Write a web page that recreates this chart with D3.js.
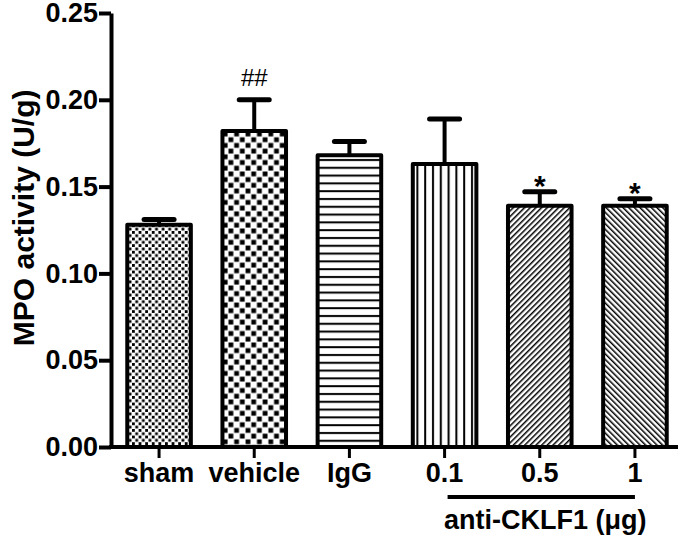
<!DOCTYPE html>
<html>
<head>
<meta charset="utf-8">
<script src="https://cdn.jsdelivr.net/npm/d3@7"></script>
<style>
    body { margin: 0; background: #fff; }
    text { font-family: 'Liberation Sans', Arial, sans-serif; }
</style>
</head>
<body>
<div id="chart"></div>
<script>
// data
const groups = ['sham', 'vehicle', 'IgG', '0.1', '0.5', '1'];
const means = [0.128, 0.182, 0.168, 0.163, 0.139, 0.139];
const errors = [0.003, 0.018, 0.008, 0.026, 0.008, 0.004];
const marks = ['', '##', '', '', '*', '*'];
const patterns = ['fineCheck', 'bigCheck', 'hLines', 'vLines', 'diagUp', 'diagDown'];
const yTicks = [0, 0.05, 0.10, 0.15, 0.20, 0.25];
const bracketGroups = ['0.1', '0.5', '1'];

const W = 685, H = 541;
const margin = { top: 13, left: 111 };
const plotBottom = 447;
const labelSize = 27;

const svg = d3.select('#chart').append('svg')
    .attr('width', W)
    .attr('height', H);

// fill patterns
const defs = svg.append('defs');

let p = defs.append('pattern').attr('id', 'fineCheck')
    .attr('patternUnits', 'userSpaceOnUse').attr('width', 6.6).attr('height', 6.6);
p.append('rect').attr('width', 6.6).attr('height', 6.6).attr('fill', '#fff');
p.append('rect').attr('x', 0).attr('y', 0).attr('width', 2.8).attr('height', 2.8).attr('fill', '#000');
p.append('rect').attr('x', 3.3).attr('y', 3.3).attr('width', 2.8).attr('height', 2.8).attr('fill', '#000');

p = defs.append('pattern').attr('id', 'bigCheck')
    .attr('patternUnits', 'userSpaceOnUse').attr('width', 11.4).attr('height', 11.4);
p.append('rect').attr('width', 11.4).attr('height', 11.4).attr('fill', '#fff');
p.append('rect').attr('x', 0.5).attr('y', 0.5).attr('width', 4.8).attr('height', 4.8).attr('fill', '#000');
p.append('rect').attr('x', 6.2).attr('y', 6.2).attr('width', 4.8).attr('height', 4.8).attr('fill', '#000');

p = defs.append('pattern').attr('id', 'hLines')
    .attr('patternUnits', 'userSpaceOnUse').attr('width', 8).attr('height', 7.8);
p.append('rect').attr('width', 8).attr('height', 7.8).attr('fill', '#fff');
p.append('rect').attr('x', 0).attr('y', 3).attr('width', 8).attr('height', 2).attr('fill', '#000');

p = defs.append('pattern').attr('id', 'vLines')
    .attr('patternUnits', 'userSpaceOnUse').attr('width', 7.8).attr('height', 8);
p.append('rect').attr('width', 7.8).attr('height', 8).attr('fill', '#fff');
p.append('rect').attr('x', 3).attr('y', 0).attr('width', 2).attr('height', 8).attr('fill', '#000');

p = defs.append('pattern').attr('id', 'diagUp')
    .attr('patternUnits', 'userSpaceOnUse').attr('width', 4).attr('height', 4)
    .attr('patternTransform', 'rotate(45)');
p.append('rect').attr('width', 4).attr('height', 4).attr('fill', '#fff');
p.append('rect').attr('x', 1).attr('y', 0).attr('width', 1.5).attr('height', 4).attr('fill', '#000');

p = defs.append('pattern').attr('id', 'diagDown')
    .attr('patternUnits', 'userSpaceOnUse').attr('width', 4).attr('height', 4)
    .attr('patternTransform', 'rotate(-45)');
p.append('rect').attr('width', 4).attr('height', 4).attr('fill', '#fff');
p.append('rect').attr('x', 1).attr('y', 0).attr('width', 1.5).attr('height', 4).attr('fill', '#000');

// scales
const xScale = d3.scaleBand()
    .domain(groups)
    .range([margin.left, 683])
    .paddingInner(0.29)
    .paddingOuter(0.15);

const yScale = d3.scaleLinear()
    .domain([0, 0.25])
    .range([plotBottom, margin.top]);

const data = groups.map((g, i) => ({
    group: g, mean: means[i], err: errors[i], mark: marks[i], pattern: patterns[i]
}));

// bars
svg.append('g').selectAll('rect')
    .data(data)
    .enter().append('rect')
    .attr('x', d => xScale(d.group) + 2)
    .attr('y', d => yScale(d.mean))
    .attr('width', xScale.bandwidth() - 4)
    .attr('height', d => plotBottom - yScale(d.mean))
    .attr('fill', d => 'url(#' + d.pattern + ')')
    .attr('stroke', '#000')
    .attr('stroke-width', 4)
    .attr('stroke-linejoin', 'round');

// error bars
const eb = svg.append('g').selectAll('g')
    .data(data)
    .enter().append('g');

eb.append('line')
    .attr('x1', d => xScale(d.group) + xScale.bandwidth() / 2)
    .attr('x2', d => xScale(d.group) + xScale.bandwidth() / 2)
    .attr('y1', d => yScale(d.mean))
    .attr('y2', d => yScale(d.mean + d.err))
    .attr('stroke', '#000')
    .attr('stroke-width', 4);

eb.append('line')
    .attr('x1', d => xScale(d.group) + xScale.bandwidth() / 2 - 15)
    .attr('x2', d => xScale(d.group) + xScale.bandwidth() / 2 + 15)
    .attr('y1', d => yScale(d.mean + d.err))
    .attr('y2', d => yScale(d.mean + d.err))
    .attr('stroke', '#000')
    .attr('stroke-width', 5)
    .attr('stroke-linecap', 'round');

// significance marks
eb.filter(d => d.mark === '##').append('text')
    .attr('x', d => xScale(d.group) + xScale.bandwidth() / 2)
    .attr('y', d => yScale(d.mean + d.err) - 14)
    .attr('text-anchor', 'middle')
    .attr('font-size', 24)
    .attr('font-family', 'Liberation Serif, serif')
    .text(d => d.mark);

eb.filter(d => d.mark === '*').append('text')
    .attr('x', d => xScale(d.group) + xScale.bandwidth() / 2)
    .attr('y', d => yScale(d.mean + d.err) + 4)
    .attr('text-anchor', 'middle')
    .attr('font-size', 30)
    .attr('font-weight', 'bold')
    .text(d => d.mark);

// axes
const yAxis = d3.axisLeft(yScale)
    .tickValues(yTicks)
    .tickFormat(d3.format('.2f'))
    .tickSize(12)
    .tickSizeOuter(0)
    .tickPadding(1);

const yAxisG = svg.append('g')
    .attr('transform', 'translate(' + margin.left + ',0)')
    .call(yAxis);

yAxisG.select('.domain').attr('stroke-width', 4);
yAxisG.selectAll('.tick line').attr('stroke-width', 4);
yAxisG.selectAll('.tick text')
    .attr('font-size', labelSize)
    .attr('font-weight', 'bold')
    .attr('fill', '#000')
    .attr('font-family', 'Liberation Sans, Arial, sans-serif');

const xAxis = d3.axisBottom(xScale)
    .tickSize(11)
    .tickSizeOuter(0)
    .tickPadding(5);

const xAxisG = svg.append('g')
    .attr('transform', 'translate(0,' + plotBottom + ')')
    .call(xAxis);

xAxisG.select('.domain').attr('stroke-width', 4).attr('d', 'M' + (margin.left - 2) + ',0H678');
xAxisG.selectAll('.tick line').attr('stroke-width', 3);
xAxisG.selectAll('.tick text')
    .attr('font-size', labelSize)
    .attr('font-weight', 'bold')
    .attr('fill', '#000')
    .attr('font-family', 'Liberation Sans, Arial, sans-serif');

// y axis title
svg.append('text')
    .attr('transform', 'translate(34,' + yScale(0.132) + ') rotate(-90)')
    .attr('text-anchor', 'middle')
    .attr('font-size', 30)
    .attr('font-weight', 'bold')
    .text('MPO activity (U/g)');

// bracket for the antibody doses
const bx0 = xScale(bracketGroups[0]) + xScale.bandwidth() / 2 + 3;
const bx1 = xScale(bracketGroups[bracketGroups.length - 1]) + xScale.bandwidth() / 2;

svg.append('line')
    .attr('x1', bx0).attr('x2', bx1)
    .attr('y1', 497).attr('y2', 497)
    .attr('stroke', '#000')
    .attr('stroke-width', 4);

svg.append('text')
    .attr('x', (bx0 + bx1) / 2 + 4)
    .attr('y', 529)
    .attr('text-anchor', 'middle')
    .attr('font-size', labelSize)
    .attr('font-weight', 'bold')
    .text('anti-CKLF1 (μg)');
</script>
</body>
</html>
